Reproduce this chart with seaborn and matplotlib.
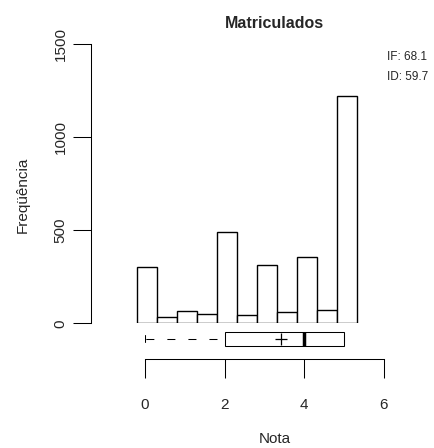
import numpy as np
import pandas as pd
import matplotlib
matplotlib.use("Agg")
import matplotlib.pyplot as plt
import seaborn as sns

# histogram counts per grade (0 .. 5, step 0.5)
notas = [0.0, 0.5, 1.0, 1.5, 2.0, 2.5, 3.0, 3.5, 4.0, 4.5, 5.0]
contagens = [304, 34, 68, 48, 489, 43, 315, 63, 358, 73, 1222]
y_ticks = [0, 500, 1000, 1500]
x_ticks = [0, 2, 4, 6]
titulo = "Matriculados"
info = ["IF: 68.1", "ID: 59.7"]

sns.set_style("white")
plt.rcParams["font.family"] = ["Liberation Sans", "DejaVu Sans"]

W, H = 435, 448
def fx(px): return px / W
def fy(py): return 1 - py / H

fig = plt.figure(figsize=(W / 100, H / 100), dpi=100)

# --- histogram panel
ax = fig.add_axes([fx(91), fy(323.3), (420 - 91) / W, (323.3 - 44.3) / H])
df = pd.DataFrame({"nota": notas, "n": contagens})
sns.histplot(data=df, x="nota", weights="n", binwidth=0.5, binrange=(-0.25, 5.25),
             color="white", edgecolor="black", linewidth=1.0, alpha=1, ax=ax)
ax.set_xlim(-1.411, 6.835)
ax.set_ylim(0, 1500)
for s in ["top", "right", "bottom"]:
    ax.spines[s].set_visible(False)
ax.spines["left"].set_bounds(0, 1500)
ax.spines["left"].set_linewidth(0.75)
ax.spines["left"].set_color("black")
ax.set_xticks([])
ax.set_yticks(y_ticks)
ax.set_yticklabels([str(t) for t in y_ticks], rotation=90, va="center", fontsize=11)
ax.tick_params(axis="y", direction="out", length=13, width=0.75, color="black", pad=4, left=True)
ax.set_xlabel("")
ax.set_ylabel("")

# --- boxplot panel
bx = fig.add_axes([fx(145), fy(347.8), 239 / W, 17.9 / H])
vals = np.repeat(notas, contagens)
sns.boxplot(x=vals, orient="h", width=0.8, color="white", linecolor="black",
            linewidth=0.75, showmeans=True, fliersize=0,
            meanprops=dict(marker="+", markeredgecolor="black", markersize=8, markeredgewidth=0.9),
            medianprops=dict(color="black", linewidth=2.5),
            whiskerprops=dict(color="black", linewidth=0.75, linestyle=(12.5, (7.7, 12.5))),
            capprops=dict(color="black", linewidth=0.75),
            ax=bx)
bx.set_xlim(0, 6)
bx.set_ylim(0.5, -0.5)
for s in ["top", "right", "left"]:
    bx.spines[s].set_visible(False)
bx.spines["bottom"].set_position(("outward", 8.3))
bx.spines["bottom"].set_bounds(0, 6)
bx.spines["bottom"].set_linewidth(0.75)
bx.spines["bottom"].set_color("black")
bx.set_yticks([])
bx.set_xticks(x_ticks)
bx.set_xticklabels([str(t) for t in x_ticks], fontsize=11)
bx.tick_params(axis="x", direction="out", length=13.5, width=0.75, color="black", pad=14, bottom=True)

# --- texts
fig.text(fx(274.5), fy(23), titulo, ha="center", va="center", fontsize=11.5, fontweight="bold")
fig.text(fx(275), fy(439), "Nota", ha="center", va="center", fontsize=11)
fig.text(fx(23), fy(195), "Freqüência", ha="center", va="center", rotation=90, fontsize=11)
fig.text(fx(386.7), fy(57.5), info[0], ha="left", va="center", fontsize=8.5)
fig.text(fx(386.7), fy(77.5), info[1], ha="left", va="center", fontsize=8.5)

fig.savefig("out.png", dpi=100, facecolor="white")
